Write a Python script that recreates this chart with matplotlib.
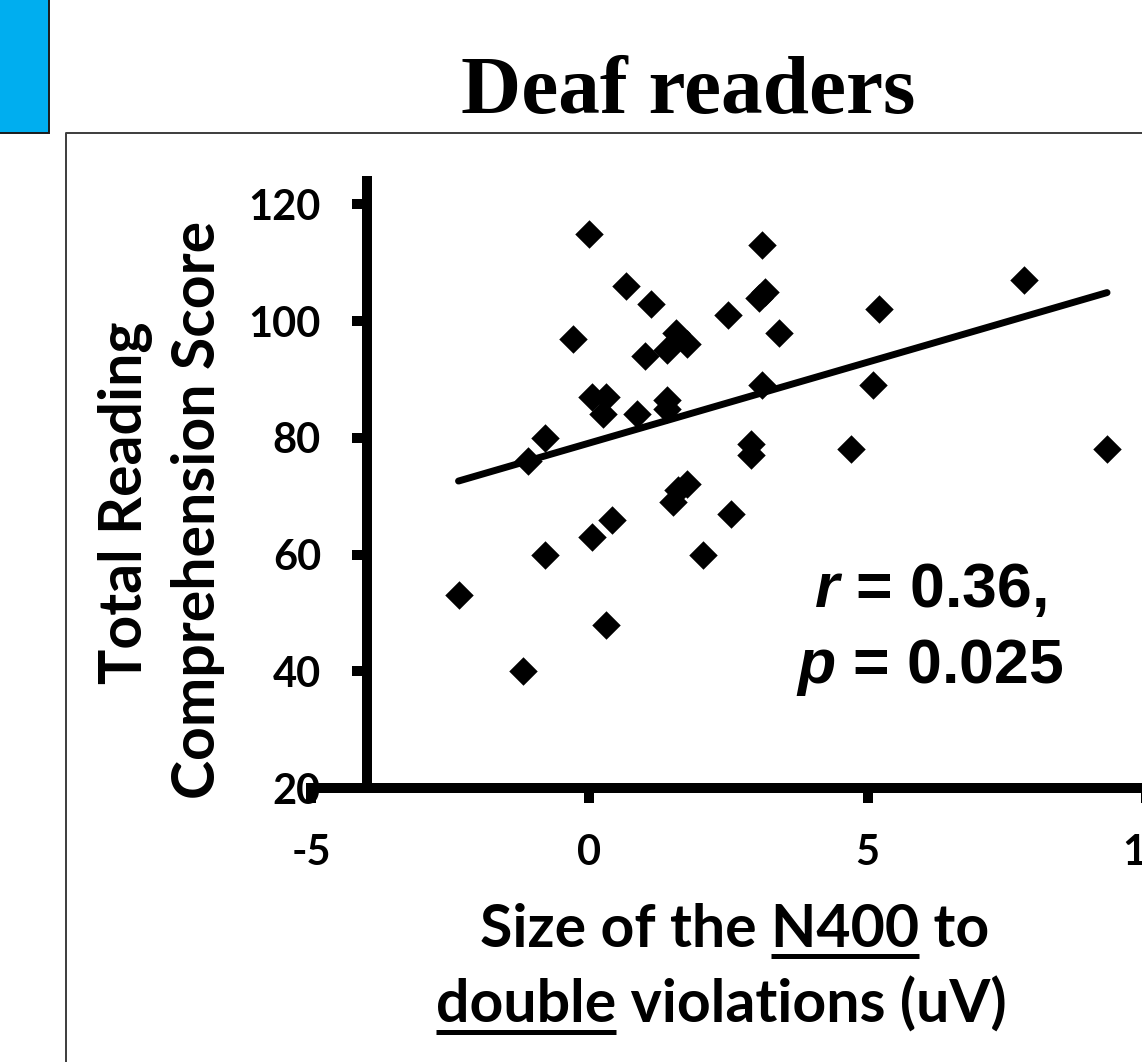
import matplotlib
matplotlib.use("Agg")
import matplotlib.pyplot as plt
import numpy as np
from matplotlib.patches import Rectangle
from matplotlib.lines import Line2D

# N400 effect size (uV) and total reading comprehension score, one pair per reader
n400_uv = [0.0, 3.1, 0.65, 1.1, 3.15, 3.05, 2.5, 3.4, -0.3, 1.55,
           1.75, 1.4, 1.0, 0.05, 0.3, 0.25, 0.85, 1.4, 1.4, 3.1,
           -0.8, -1.1, 2.9, 2.9, 1.75, 1.6, 1.5, 2.55, 0.4, 0.05,
           -0.8, 2.05, -2.35, 0.3, -1.2, 7.8, 5.2, 5.1, 4.7, 9.3]
reading_score = [115, 113, 106, 103, 105, 104, 101, 98, 97, 98,
                 96, 95, 94, 87, 87, 84, 84, 86.5, 85, 89,
                 80, 76, 79, 77, 72, 71, 69, 67, 66, 63,
                 60, 60, 53, 48, 40, 107, 102, 89, 78, 78]

x_ticks = [-5, 0, 5, 10]
y_ticks = [20, 40, 60, 80, 100, 120]
stat_lines = [r"$\mathit{r}$ = 0.36,", r"$\mathit{p}$ = 0.025"]

plt.rcParams["mathtext.fontset"] = "custom"
plt.rcParams["mathtext.it"] = "Liberation Sans:italic:bold"
plt.rcParams["mathtext.rm"] = "Liberation Sans:bold"
plt.rcParams["mathtext.bf"] = "Liberation Sans:bold"

W, H = 1142, 1062
fig = plt.figure(figsize=(W / 100, H / 100), dpi=100)


def fx(px):
    return px / W


def fy(py):
    return 1 - py / H


# decorative blue tab and slide frame
fig.patches.append(Rectangle((fx(-5), fy(133)), fx(54), 133 / H + 0.01,
                             transform=fig.transFigure, facecolor="#00AEEF",
                             edgecolor="#1a1a1a", linewidth=1.4))
fig.lines.append(Line2D([fx(66), fx(66), fx(1200)], [fy(1100), fy(133), fy(133)],
                        transform=fig.transFigure, color="#3c3c3c", linewidth=1.4))

fig.text(fx(688), fy(113), "Deaf readers", family="Liberation Serif",
         weight="bold", fontsize=60, ha="center", va="baseline")

ax = fig.add_axes([fx(311), fy(788), (1146 - 311) / W, (788 - 181) / H])
ax.set_xlim(-5, 10)
ax.set_ylim(20, 124)
ax.patch.set_alpha(0)

for side in ("top", "right"):
    ax.spines[side].set_visible(False)
ax.spines["left"].set_position(("data", -4))
for side in ("left", "bottom"):
    ax.spines[side].set_linewidth(7.2)
    ax.spines[side].set_capstyle("projecting")

ax.set_xticks(x_ticks)
ax.set_yticks(y_ticks)
ax.tick_params(axis="both", direction="out", length=10.8, width=7.2,
               pad=22, labelsize=30)
for lab in ax.get_xticklabels() + ax.get_yticklabels():
    lab.set_family("Lato")
    lab.set_weight("bold")
ax.xaxis.set_major_formatter(matplotlib.ticker.FuncFormatter(lambda v, p: f"{v:g}"))
ax.yaxis.set_major_formatter(matplotlib.ticker.FuncFormatter(lambda v, p: f"{v:g}"))

xs = np.array(n400_uv)
ys = np.array(reading_score)
ax.scatter(xs, ys, marker="D", s=14.5 ** 2, color="black", linewidths=0,
           zorder=3, clip_on=False)

slope, intercept = np.polyfit(xs, ys, 1)
fit_x = np.array([xs.min(), xs.max()])
ax.plot(fit_x, intercept + slope * fit_x, color="black", linewidth=5,
        solid_capstyle="round", zorder=4)

for text, base in zip(stat_lines, (607, 683)):
    fig.text(fx(930), fy(base), text, family="Liberation Sans", weight="bold",
             fontsize=45, ha="center", va="baseline")

label_font = dict(family="Lato", weight="bold", fontsize=42.5)
fig.text(fx(142), fy(503), "Total Reading", rotation=90, rotation_mode="anchor",
         ha="center", va="baseline", **label_font)
fig.text(fx(215), fy(510), "Comprehension Score", rotation=90,
         rotation_mode="anchor", ha="center", va="baseline", **label_font)

xl1 = fig.text(fx(480), fy(947), "Size of the N400 to", ha="left",
               va="baseline", **label_font)
xl2 = fig.text(fx(436), fy(1023), "double violations (uV)", ha="left",
               va="baseline", **label_font)

fig.canvas.draw()
renderer = fig.canvas.get_renderer()


def text_width(s):
    t = fig.text(0, 0, s, **label_font)
    w = t.get_window_extent(renderer).width
    t.remove()
    return w


def underline(txt, prefix_with_word, word, baseline_py):
    left = txt.get_window_extent(renderer).x0
    end = left + text_width(prefix_with_word)
    start = end - text_width(word)
    y = fy(baseline_py + 9)
    fig.lines.append(Line2D([start / W, end / W], [y, y], transform=fig.transFigure,
                            color="black", linewidth=3.6, solid_capstyle="butt"))


underline(xl1, "Size of the N400", "N400", 947)
underline(xl2, "double", "double", 1023)

fig.savefig("out.png", dpi=100)
